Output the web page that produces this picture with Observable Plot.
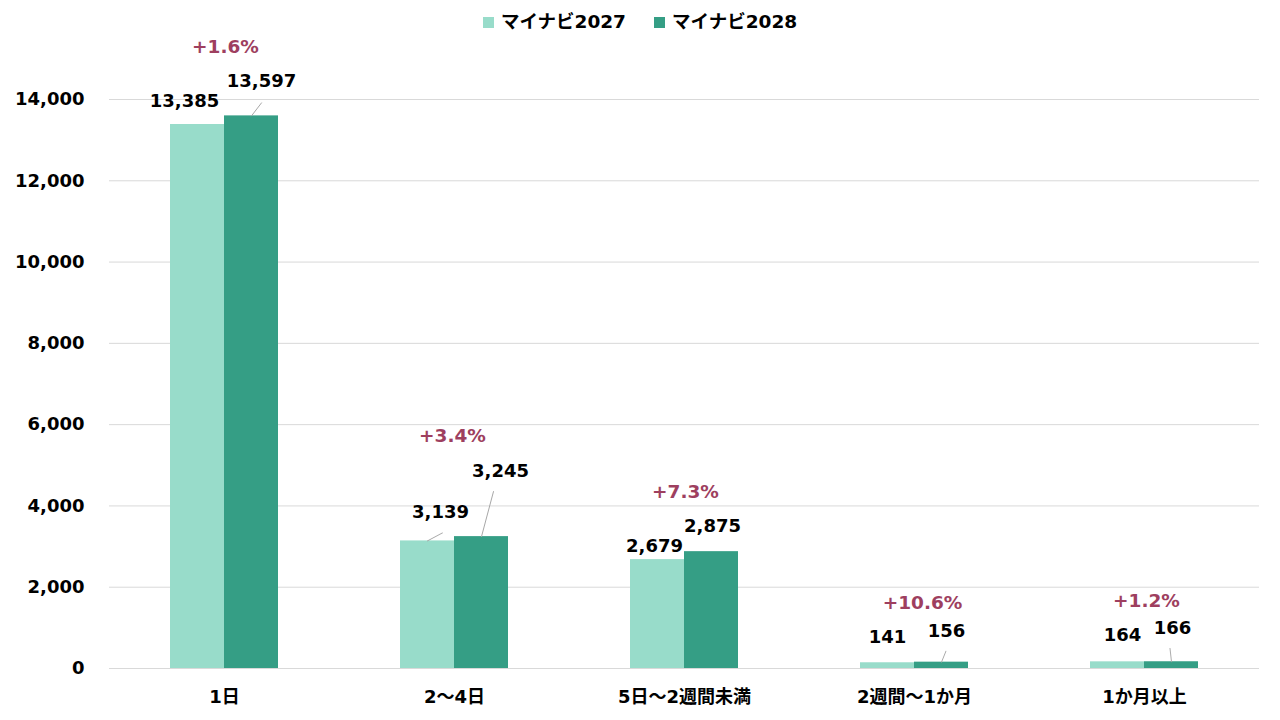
<!DOCTYPE html>
<html><head><meta charset="utf-8">
<script src="https://cdn.jsdelivr.net/npm/d3@7"></script>
<script src="https://cdn.jsdelivr.net/npm/@observablehq/plot@0.6"></script>
<style>
body{margin:0;background:#fff;font-family:"DejaVu Sans","Noto Sans CJK JP",sans-serif;}
#legend{height:34px;box-sizing:border-box;padding-top:11px;display:flex;justify-content:center;align-items:flex-start;gap:28px;font-weight:bold;font-size:18.5px;color:#000;line-height:22px;}
#legend .item{display:flex;align-items:center;gap:7px;}
#legend .sw{width:11px;height:11px;display:inline-block;}
#chart svg{display:block;overflow:visible;}
</style></head>
<body>
<div id="legend"></div>
<div id="chart"></div>
<script>
// ---- data ----
const categories = ["1日", "2～4日", "5日～2週間未満", "2週間～1か月", "1か月以上"];
const series = ["マイナビ2027", "マイナビ2028"];
const values2027 = [13385, 3139, 2679, 141, 164];
const values2028 = [13597, 3245, 2875, 156, 166];
const yTicks = [0, 2000, 4000, 6000, 8000, 10000, 12000, 14000];
const colors = ["#98DCCA", "#359E85"];

// ---- annotation placement (value-label anchors) ----
const label2027Y = [13951, 3838, 3002, 763, 812];
const label2027Dx = [-13, 13, -3, 0, 5];
const label2028Y = [14443, 4847, 3494, 910, 984];
const label2028Dx = [10, 19, 1, 5, 1];
const pctY = [15279, 5708, 4330, 1599, 1648];
const pctDx = [1, -2, 1, 8, 2];
// leader lines: category index, series index, length(px), rotation(deg)
const leaderCat = [0, 1, 1, 3, 4];
const leaderSeries = [1, 0, 1, 1, 1];
const leaderLen = [16.4, 17, 46.6, 11.9, 13.4];
const leaderRot = [37.6, 61.9, 14.9, 22, -6.4];

// ---- legend ----
const legend = document.getElementById("legend");
series.forEach((s, i) => {
  const it = document.createElement("div");
  it.className = "item";
  it.innerHTML = `<span class="sw" style="background:${colors[i]}"></span><span>${s}</span>`;
  legend.appendChild(it);
});

// ---- table ----
const rows = [];
categories.forEach((c, i) => {
  rows.push({cat: c, series: series[0], value: values2027[i], ly: label2027Y[i], dx: label2027Dx[i]});
  rows.push({cat: c, series: series[1], value: values2028[i], ly: label2028Y[i], dx: label2028Dx[i]});
});
const fmt = d3.format(",");

const marks = [
  Plot.ruleY(yTicks, {stroke: "#d9d9d9", strokeWidth: 1}),
  Plot.barY(rows, {fx: "cat", x: "series", y: "value", fill: "series"}),
  Plot.axisY({ticks: yTicks, tickSize: 0, tickPadding: 25, tickFormat: fmt, label: null, fontSize: 18, fontWeight: "bold"})
];
rows.forEach(r => {
  marks.push(Plot.text([r], {fx: "cat", x: "series", y: "ly", text: d => fmt(d.value), dx: r.dx, fill: "#000", fontSize: 18, fontWeight: "bold"}));
});
categories.forEach((c, i) => {
  const pct = (values2028[i] / values2027[i] - 1) * 100;
  marks.push(Plot.text([{cat: c, y: pctY[i], t: "+" + pct.toFixed(1) + "%"}], {fx: "cat", y: "y", text: "t", dx: pctDx[i], fill: "#9E3F5F", fontSize: 18.5, fontWeight: "bold"}));
});
const lineShape = {draw(context, l) { context.moveTo(0, 0); context.lineTo(0, -l); }};
leaderCat.forEach((ci, k) => {
  const si = leaderSeries[k];
  const v = si === 0 ? values2027[ci] : values2028[ci];
  marks.push(Plot.vector([{cat: categories[ci], series: series[si], value: v}], {
    fx: "cat", x: "series", y: "value", length: leaderLen[k], rotate: leaderRot[k],
    anchor: "start", shape: lineShape, stroke: "#a6a6a6", strokeWidth: 0.9
  }));
});

const chart = Plot.plot({
  width: 1280,
  height: 686,
  marginTop: 65,
  marginBottom: 52,
  marginLeft: 109,
  marginRight: 21,
  style: {fontFamily: '"DejaVu Sans","Noto Sans CJK JP",sans-serif', fontSize: "18px", fontWeight: "bold", color: "#000", background: "#fff"},
  fx: {domain: categories, padding: 0, label: null, tickSize: 0, tickPadding: 22, axis: "bottom"},
  x: {domain: series, axis: null, paddingInner: 0, paddingOuter: 1.11},
  y: {domain: [0, 14000], axis: null},
  color: {domain: series, range: colors},
  marks
});
document.getElementById("chart").appendChild(chart);
</script>
</body></html>
